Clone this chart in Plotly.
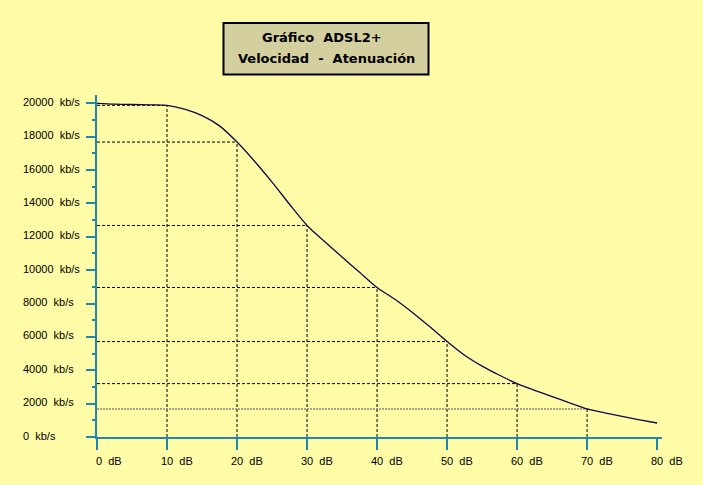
import plotly.graph_objects as go

# ---- data ----
atten_db = [0, 2.5, 5, 7.5, 10, 12.5, 15, 17.5, 20, 22.5, 25, 27.5, 30, 32.5, 35, 37.5,
            40, 42.5, 45, 47.5, 50, 52.5, 55, 57.5, 60, 62.5, 65, 67.5, 70, 72.5, 75, 77.5, 80]
speed_kbs = [20000, 19950, 19930, 19910, 19880, 19650, 19260, 18650, 17680, 16530, 15280, 13950,
             12680, 11720, 10790, 9870, 8960, 8270, 7480, 6620, 5720, 4900, 4250, 3700, 3200,
             2800, 2420, 2050, 1680, 1450, 1230, 1030, 840]
drop_points = [10, 20, 30, 40, 50, 60, 70]
x_ticks = [0, 10, 20, 30, 40, 50, 60, 70, 80]
y_ticks = [0, 2000, 4000, 6000, 8000, 10000, 12000, 14000, 16000, 18000, 20000]
title_lines = ["Gráfico\u00a0\u00a0ADSL2+", "Velocidad\u00a0\u00a0-\u00a0\u00a0Atenuación"]

# ---- style / geometry ----
W, H = 703, 485
ML, MR, MT, MB = 97, 41, 95, 48
PW, PH = W - ML - MR, H - MT - MB
BG = "#FFFBA6"
AXC = "#1E88AE"
CURVE = "#0A0A4A"


def px_to_paper_x(px):
    return (px - ML) / PW


def px_to_paper_y(py):
    return (H - MB - py) / PH


fig = go.Figure()

# drop lines
for d in drop_points:
    v = speed_kbs[atten_db.index(d)]
    fig.add_trace(go.Scatter(x=[d, d], y=[0, v], mode="lines",
                             line=dict(color="black", width=1, dash="3px,2px"),
                             hoverinfo="skip"))
    if d == 70:
        hl = dict(color="#555555", width=1, dash="2px,1px")
    else:
        hl = dict(color="black", width=1, dash="3px,2px")
    fig.add_trace(go.Scatter(x=[0, d], y=[v, v], mode="lines", line=hl, hoverinfo="skip"))

# main curve
fig.add_trace(go.Scatter(x=atten_db, y=speed_kbs, mode="lines",
                         line=dict(color=CURVE, width=1.3, shape="spline", smoothing=0.8),
                         hoverinfo="skip"))

annotations = []
# y tick labels (left aligned)
for v in y_ticks:
    annotations.append(dict(x=px_to_paper_x(23), xref="paper", y=v, yref="y",
                            text=f"{v}\u00a0\u00a0kb/s", showarrow=False, xanchor="left",
                            yanchor="middle", yshift=1.5, borderpad=0, borderwidth=0,
                            font=dict(family="Liberation Sans", size=11, color="black")))
# x tick labels
for d in x_ticks:
    annotations.append(dict(x=d, xref="x", y=px_to_paper_y(461), yref="paper",
                            text=f"{d}\u00a0\u00a0dB", showarrow=False, xanchor="left",
                            yanchor="middle", xshift=(-1 if d == 0 else -6),
                            borderpad=0, borderwidth=0,
                            font=dict(family="Liberation Sans", size=11, color="black")))
# title text
annotations.append(dict(x=px_to_paper_x(321.5), y=px_to_paper_y(37), xref="paper", yref="paper",
                        text=title_lines[0], showarrow=False, xanchor="center", yanchor="middle",
                        font=dict(family="DejaVu Sans", size=13, color="black", weight="bold")))
annotations.append(dict(x=px_to_paper_x(326), y=px_to_paper_y(58), xref="paper", yref="paper",
                        text=title_lines[1], showarrow=False, xanchor="center", yanchor="middle",
                        font=dict(family="DejaVu Sans", size=13, color="black", weight="bold")))

shapes = [dict(type="rect", xref="paper", yref="paper",
               x0=px_to_paper_x(223.5), x1=px_to_paper_x(428.5),
               y0=px_to_paper_y(74.5), y1=px_to_paper_y(23),
               fillcolor="#D3CF9F", line=dict(color="black", width=2), layer="below")]

fig.update_layout(
    width=W, height=H,
    margin=dict(l=ML, r=MR, t=MT, b=MB, pad=0),
    paper_bgcolor=BG, plot_bgcolor=BG,
    showlegend=False, hovermode=False,
    annotations=annotations, shapes=shapes,
    xaxis=dict(range=[0, 80.7], tickvals=x_ticks, showticklabels=False, showgrid=False,
               zeroline=False, showline=True, linecolor=AXC, linewidth=2,
               ticks="outside", ticklen=11, tickwidth=2, tickcolor=AXC, fixedrange=True),
    yaxis=dict(range=[0, 20500], tickvals=y_ticks, showticklabels=False, showgrid=False,
               zeroline=False, showline=True, linecolor=AXC, linewidth=2,
               ticks="outside", ticklen=9, tickwidth=2, tickcolor=AXC, fixedrange=True,
               minor=dict(dtick=1000, tick0=0, ticks="outside", ticklen=3, tickwidth=2,
                          tickcolor=AXC, showgrid=False)),
)

fig.write_html("out.html")
